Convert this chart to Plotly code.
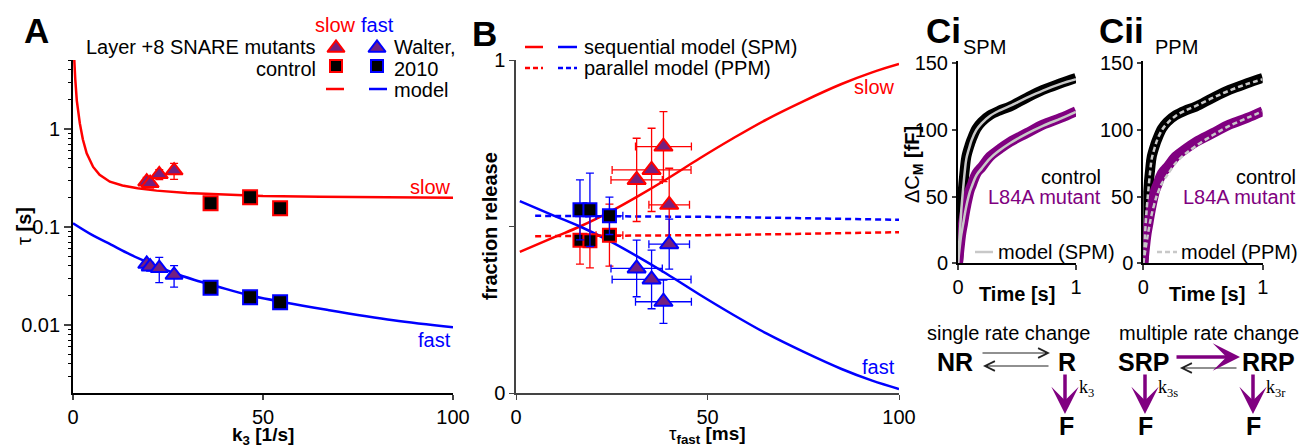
import plotly.graph_objects as go

W, H = 1313, 447
OFF = 8  # the page body has an 8px margin; layout positions below are page pixels
FONT = "Liberation Sans, Arial, sans-serif"
SERIF = "Liberation Serif, Times New Roman, serif"
RED = "#ff0000"
BLUE = "#0000ff"
PURPLE = "#800080"
TRI_FILL = "#74207f"
GRAY = "#c8c8c8"

# ---- panel A: time constants vs k3
k3_mut = [19.4, 20.3, 22.7, 26.6]
tau_slow_mut = [0.29, 0.28, 0.345, 0.376]
tau_slow_mut_err = [0.03, 0.03, 0.04, 0.07]
tau_fast_mut = [0.0419, 0.0394, 0.038, 0.0324]
tau_fast_mut_err = [0.004, 0.004, 0.011, 0.008]
k3_ctrl = [36.2, 46.6, 54.5]
tau_slow_ctrl = [0.175, 0.201, 0.155]
tau_slow_ctrl_err = [0.015, 0.012, 0.022]
tau_fast_ctrl = [0.024, 0.0192, 0.0171]
tau_fast_ctrl_err = [0.002, 0.0015, 0.0015]

k3_model_slow = [0.2, 0.3, 0.6, 1.0, 1.8, 2.6, 3.6, 5.3, 7, 9.7, 13, 17, 22, 30, 40, 50, 65, 80, 100]
tau_model_slow = [6.5, 5.0, 3.2, 1.95, 1.14, 0.78, 0.565, 0.41, 0.34, 0.29, 0.265, 0.248,
                  0.235, 0.222, 0.213, 0.207, 0.203, 0.201, 0.199]
k3_model_fast = [0, 5, 10, 15, 20, 26, 32, 38, 46.6, 55, 66.8, 84.3, 100]
tau_model_fast = [0.109, 0.083, 0.066, 0.0525, 0.043, 0.0345, 0.0288, 0.0247, 0.0200,
                  0.0172, 0.0143, 0.0112, 0.0095]
tau_minor_ticks = [0.002, 0.003, 0.004, 0.005, 0.006, 0.007, 0.008, 0.009,
                   0.02, 0.03, 0.04, 0.05, 0.06, 0.07, 0.08, 0.09,
                   0.2, 0.3, 0.4, 0.5, 0.6, 0.7, 0.8, 0.9, 2, 3, 4, 5]

# ---- panel B: fraction release vs tau_fast
tf_mut = [31.5, 35.4, 38.5, 40.0]
tf_mut_err = [6.7, 10.3, 7.3, 5.3]
frac_slow_mut = [0.640, 0.670, 0.740, 0.565]
frac_slow_mut_err = [0.125, 0.125, 0.105, 0.11]
frac_fast_mut = [0.374, 0.341, 0.274, 0.447]
frac_fast_mut_err = [0.085, 0.088, 0.065, 0.075]
tf_ctrl = [16.7, 19.3, 24.4]
tf_ctrl_err = [1.5, 1.5, 3.5]
frac_slow_ctrl = [0.459, 0.457, 0.474]
frac_slow_ctrl_err = [0.072, 0.081, 0.093]
frac_fast_ctrl = [0.550, 0.550, 0.532]
frac_fast_ctrl_err = [0.09, 0.11, 0.056]

tf_spm = [1, 10, 16.7, 24.5, 32, 39.3, 48, 56.7, 65.5, 75, 85, 93, 100]
spm_slow = [0.424, 0.468, 0.50, 0.544, 0.592, 0.642, 0.705, 0.765, 0.822, 0.876, 0.928, 0.963, 0.988]
spm_fast = [0.576, 0.532, 0.50, 0.456, 0.408, 0.358, 0.295, 0.235, 0.178, 0.124, 0.072, 0.037, 0.012]
tf_ppm = [5, 25, 50, 75, 100]
ppm_slow = [0.471, 0.472, 0.474, 0.478, 0.483]
ppm_fast = [0.532, 0.531, 0.529, 0.525, 0.52]

# ---- panels Ci / Cii: capacitance traces
t_trace = [0, 0.014, 0.028, 0.043, 0.057, 0.071, 0.1, 0.114, 0.156, 0.2, 0.27, 0.35,
           0.44, 0.58, 0.72, 0.87, 1.0]
cm_ctrl = [0, 22.5, 42, 57, 70, 80, 89, 92.5, 101, 106, 111, 114.5, 117.5, 124, 130, 135, 139]
cm_mut = [0, 12, 22.5, 30, 37.5, 44, 55, 58, 67.5, 72, 80, 85.5, 91, 97.5, 104, 109, 114]
spm_ctrl = [0, 21, 40, 55.5, 68.5, 78.5, 88, 92, 100, 105, 110.5, 114.5, 118, 124, 129.5, 134.5, 138]
spm_mut = [0, 11.5, 21.5, 29, 36.5, 43, 53.5, 57, 66, 71, 78.5, 84.5, 90, 97, 103, 108.5, 113.5]
ppm_ctrl = [0, 21, 40, 55.5, 68.5, 78.5, 88, 92, 100, 105, 110.5, 114.5, 118, 124, 129.5, 134.5, 138]
ppm_mut = [0, 8, 16, 24, 31, 37, 47, 51, 60, 66, 75, 82, 88, 96, 103, 109, 114]


def px(x):
    return (x - OFF) / W


def py(y):
    return 1 - (y - OFF) / H


fig = go.Figure()

# panel A
fig.add_trace(go.Scatter(x=k3_model_slow, y=tau_model_slow, mode="lines",
                         line=dict(color=RED, width=2.5), xaxis="x", yaxis="y"))
fig.add_trace(go.Scatter(x=k3_model_fast, y=tau_model_fast, mode="lines", line_shape="spline",
                         line=dict(color=BLUE, width=2.5), xaxis="x", yaxis="y"))
for xs, ys, es, col, sym, fill in [
    (k3_ctrl, tau_slow_ctrl, tau_slow_ctrl_err, RED, "square", "black"),
    (k3_ctrl, tau_fast_ctrl, tau_fast_ctrl_err, BLUE, "square", "black"),
    (k3_mut, tau_slow_mut, tau_slow_mut_err, RED, "triangle-up", TRI_FILL),
    (k3_mut, tau_fast_mut, tau_fast_mut_err, BLUE, "triangle-up", TRI_FILL),
]:
    fig.add_trace(go.Scatter(
        x=xs, y=ys, mode="markers", xaxis="x", yaxis="y",
        error_y=dict(type="data", array=es, color=col, thickness=1.3, width=4),
        marker=dict(symbol=sym, size=15 if sym != "square" else 14, color=fill,
                    line=dict(color=col, width=2))))
# empty trace so the minor-tick overlay axis gets drawn
fig.add_trace(go.Scatter(x=[], y=[], xaxis="x", yaxis="y6"))

# panel B
fig.add_trace(go.Scatter(x=tf_spm, y=spm_slow, mode="lines", line_shape="spline",
                         line=dict(color=RED, width=2.5), xaxis="x2", yaxis="y2"))
fig.add_trace(go.Scatter(x=tf_spm, y=spm_fast, mode="lines", line_shape="spline",
                         line=dict(color=BLUE, width=2.5), xaxis="x2", yaxis="y2"))
fig.add_trace(go.Scatter(x=tf_ppm, y=ppm_slow, mode="lines",
                         line=dict(color=RED, width=2.5, dash="6px,4px"), xaxis="x2", yaxis="y2"))
fig.add_trace(go.Scatter(x=tf_ppm, y=ppm_fast, mode="lines",
                         line=dict(color=BLUE, width=2.5, dash="6px,4px"), xaxis="x2", yaxis="y2"))
for xs, xe, ys, es, col, sym, fill in [
    (tf_ctrl, tf_ctrl_err, frac_slow_ctrl, frac_slow_ctrl_err, RED, "square", "black"),
    (tf_ctrl, tf_ctrl_err, frac_fast_ctrl, frac_fast_ctrl_err, BLUE, "square", "black"),
    (tf_mut, tf_mut_err, frac_slow_mut, frac_slow_mut_err, RED, "triangle-up", TRI_FILL),
    (tf_mut, tf_mut_err, frac_fast_mut, frac_fast_mut_err, BLUE, "triangle-up", TRI_FILL),
]:
    fig.add_trace(go.Scatter(
        x=xs, y=ys, mode="markers", xaxis="x2", yaxis="y2",
        error_x=dict(type="data", array=xe, color=col, thickness=1.3, width=4),
        error_y=dict(type="data", array=es, color=col, thickness=1.3, width=4),
        marker=dict(symbol=sym, size=16 if sym != "square" else 13, color=fill,
                    line=dict(color=col, width=2))))

# panels Ci, Cii
for xa, ya, m_ctrl, m_mut, dash in [("x3", "y3", spm_ctrl, spm_mut, "solid"),
                                     ("x4", "y4", ppm_ctrl, ppm_mut, "5px,3px")]:
    fig.add_trace(go.Scatter(x=t_trace, y=cm_ctrl, mode="lines", line_shape="spline",
                             line=dict(color="black", width=10), xaxis=xa, yaxis=ya))
    fig.add_trace(go.Scatter(x=t_trace, y=cm_mut, mode="lines", line_shape="spline",
                             line=dict(color=PURPLE, width=10), xaxis=xa, yaxis=ya))
    fig.add_trace(go.Scatter(x=t_trace, y=m_ctrl, mode="lines", line_shape="spline",
                             line=dict(color=GRAY, width=2.5, dash=dash), xaxis=xa, yaxis=ya))
    fig.add_trace(go.Scatter(x=t_trace, y=m_mut, mode="lines", line_shape="spline",
                             line=dict(color=GRAY, width=2.5, dash=dash), xaxis=xa, yaxis=ya))


# legend glyphs on a full-figure pixel overlay
def glyph(x, y, sym, fill, col, size):
    fig.add_trace(go.Scatter(x=[x], y=[y], mode="markers", xaxis="x5", yaxis="y5",
                             marker=dict(symbol=sym, size=size, color=fill,
                                         line=dict(color=col, width=2))))


def seg(x0, x1, y, col, dash="solid", width=2.5):
    fig.add_trace(go.Scatter(x=[x0, x1], y=[y, y], mode="lines", xaxis="x5", yaxis="y5",
                             line=dict(color=col, width=width, dash=dash)))


glyph(336, 48, "triangle-up", TRI_FILL, RED, 15)
glyph(377, 48, "triangle-up", TRI_FILL, BLUE, 15)
glyph(336, 66, "square", "black", RED, 12)
glyph(377, 66, "square", "black", BLUE, 12)
seg(326, 344, 89, RED)
seg(369, 387, 89, BLUE)
seg(525, 543, 47, RED)
seg(558, 577, 47, BLUE)
seg(525, 543, 68, RED, "5px,3px")
seg(558, 577, 68, BLUE, "5px,3px")
seg(975, 993, 252, GRAY)
seg(1157, 1177, 252, GRAY, "5px,3px")

ann = []


def text(x, y, s, size=20, color="black", xanchor="center", angle=0, family=FONT):
    ann.append(dict(x=x, y=y, xref="x5", yref="y5", text=s, showarrow=False,
                    xanchor=xanchor, yanchor="middle", textangle=angle,
                    font=dict(family=family, size=size, color=color)))


def arrow(x0, y0, x1, y1, color="#222", width=1.2, head=5, size=1.6):
    ann.append(dict(x=x1, y=y1, ax=x0, ay=y0, xref="x5", yref="y5", axref="x5", ayref="y5",
                    text="", showarrow=True, arrowhead=head, arrowsize=size,
                    arrowwidth=width, arrowcolor=color, standoff=0))


# panel letters
text(36, 30, "<b>A</b>", 35)
text(484, 33, "<b>B</b>", 35)
text(943, 30, "<b>Ci</b>", 35)
text(1121, 30, "<b>Cii</b>", 35)

# panel A texts
text(335, 25, "slow", color=RED)
text(377, 25, "fast", color=BLUE)
text(318, 47, "Layer +8 SNARE mutants", xanchor="right")
text(318, 69, "control", xanchor="right")
text(392, 47, "Walter,", xanchor="left")
text(392, 69, "2010", xanchor="left")
text(392, 90, "model", xanchor="left")
text(453, 187, "slow", color=RED, xanchor="right")
text(453, 340, "fast", color=BLUE, xanchor="right")
text(24, 226, "τ <b>[s]</b>", angle=-90)
text(263, 436, "<b>k<sub>3</sub> [1/s]</b>", 19)

# panel B texts
text(582, 47, "sequential model (SPM)", xanchor="left")
text(582, 68, "parallel model (PPM)", xanchor="left")
text(897, 87, "slow", color=RED, xanchor="right")
text(897, 367, "fast", color=BLUE, xanchor="right")
text(490, 226, "<b>fraction release</b>", angle=-90)
text(707, 435, "τ<sub><b>fast</b></sub> <b>[ms]</b>", 19)

# panels Ci / Cii texts
text(984, 47, "SPM")
text(1176, 47, "PPM")
for xr in (1103, 1298):
    text(xr, 177, "control", xanchor="right")
    text(xr, 197, "L84A mutant", color=PURPLE, xanchor="right")
text(996, 252, "model (SPM)", xanchor="left")
text(1179, 252, "model (PPM)", xanchor="left")
text(913, 165, "ΔC<sub><b>M</b></sub> <b>[fF]</b>", angle=-90)
text(1017, 294, "<b>Time [s]</b>")
text(1207, 294, "<b>Time [s]</b>")

# kinetic schemes
text(1008, 333, "single rate change")
text(1209, 333, "multiple rate change")
text(955, 362, "<b>NR</b>", 25)
text(1067, 362, "<b>R</b>", 25)
text(1143, 362, "<b>SRP</b>", 25)
text(1268, 362, "<b>RRP</b>", 25)
for xf in (1066, 1145, 1253):
    text(xf, 426, "<b>F</b>", 25)
text(1077, 388, "k<sub>3</sub>", 18, family=SERIF, xanchor="left")
text(1156, 388, "k<sub>3s</sub>", 18, family=SERIF, xanchor="left")
text(1264, 388, "k<sub>3r</sub>", 18, family=SERIF, xanchor="left")
arrow(981, 353, 1050, 353)
arrow(1050, 366, 983, 366)
arrow(1238, 368, 1180, 368)
arrow(1175, 357, 1240, 357, PURPLE, 3.5, 3, 1.3)
for xa_ in (1065, 1145, 1253):
    arrow(xa_, 373, xa_, 414, PURPLE, 3.5, 3, 1.3)

tick_font = dict(family=FONT, size=20, color="black")
axis_common = dict(showgrid=False, zeroline=False, showline=True, ticks="outside",
                   tickfont=tick_font, fixedrange=True)

fig.update_layout(
    width=W, height=H, margin=dict(l=0, r=0, t=0, b=0, pad=0, autoexpand=False),
    paper_bgcolor="white", plot_bgcolor="rgba(0,0,0,0)", showlegend=False,
    font=dict(family=FONT, size=20, color="black"),
    annotations=ann,
    xaxis=dict(domain=[px(73), px(453)], range=[0, 100], anchor="y", tickvals=[0, 50, 100],
               linecolor="black", linewidth=1.8, ticklen=5, tickwidth=1.5, **axis_common),
    yaxis=dict(domain=[py(393), py(60)], type="log", range=[-2.694, 0.704], anchor="x",
               tickvals=[0.01, 0.1, 1], ticktext=["0.01", "0.1", "1"],
               linecolor="black", linewidth=1.8, ticklen=7, tickwidth=1.5, **axis_common),
    yaxis6=dict(overlaying="y", anchor="x", side="left", type="log", range=[-2.694, 0.704],
                tickvals=tau_minor_ticks, showticklabels=False, ticks="outside", ticklen=4,
                tickwidth=1.2, tickcolor="black", showline=False, showgrid=False,
                zeroline=False, fixedrange=True),
    xaxis2=dict(domain=[px(516), px(899)], range=[0, 100], anchor="y2", tickvals=[0, 50, 100],
                linecolor="#444", linewidth=1.5, ticklen=5, tickwidth=1.3, tickcolor="#444",
                **axis_common),
    yaxis2=dict(domain=[py(393), py(60)], range=[0, 1], anchor="x2", tickvals=[0, 0.5, 1],
                ticktext=["0", "", "1"], linecolor="#444", linewidth=1.5, ticklen=5,
                tickwidth=1.3, tickcolor="#444", **axis_common),
    xaxis3=dict(domain=[px(958), px(1076)], range=[0, 1], anchor="y3", tickvals=[0, 1],
                linecolor="black", linewidth=2, ticklen=5, tickwidth=1.5, **axis_common),
    yaxis3=dict(domain=[py(263.3), py(60.6)], range=[0, 152], anchor="x3",
                tickvals=[0, 50, 100, 150], linecolor="black", linewidth=2, ticklen=4,
                tickwidth=1.5, **axis_common),
    xaxis4=dict(domain=[px(1143.3), px(1262.7)], range=[0, 1], anchor="y4", tickvals=[0, 1],
                linecolor="black", linewidth=2, ticklen=5, tickwidth=1.5, **axis_common),
    yaxis4=dict(domain=[py(263.3), py(60.6)], range=[0, 152], anchor="x4",
                tickvals=[0, 50, 100, 150], linecolor="black", linewidth=2, ticklen=4,
                tickwidth=1.5, **axis_common),
    xaxis5=dict(domain=[0, 1], range=[OFF, W + OFF], anchor="y5", visible=False, fixedrange=True),
    yaxis5=dict(domain=[0, 1], range=[H + OFF, OFF], anchor="x5", visible=False, fixedrange=True),
)

fig.write_html("out.html")
